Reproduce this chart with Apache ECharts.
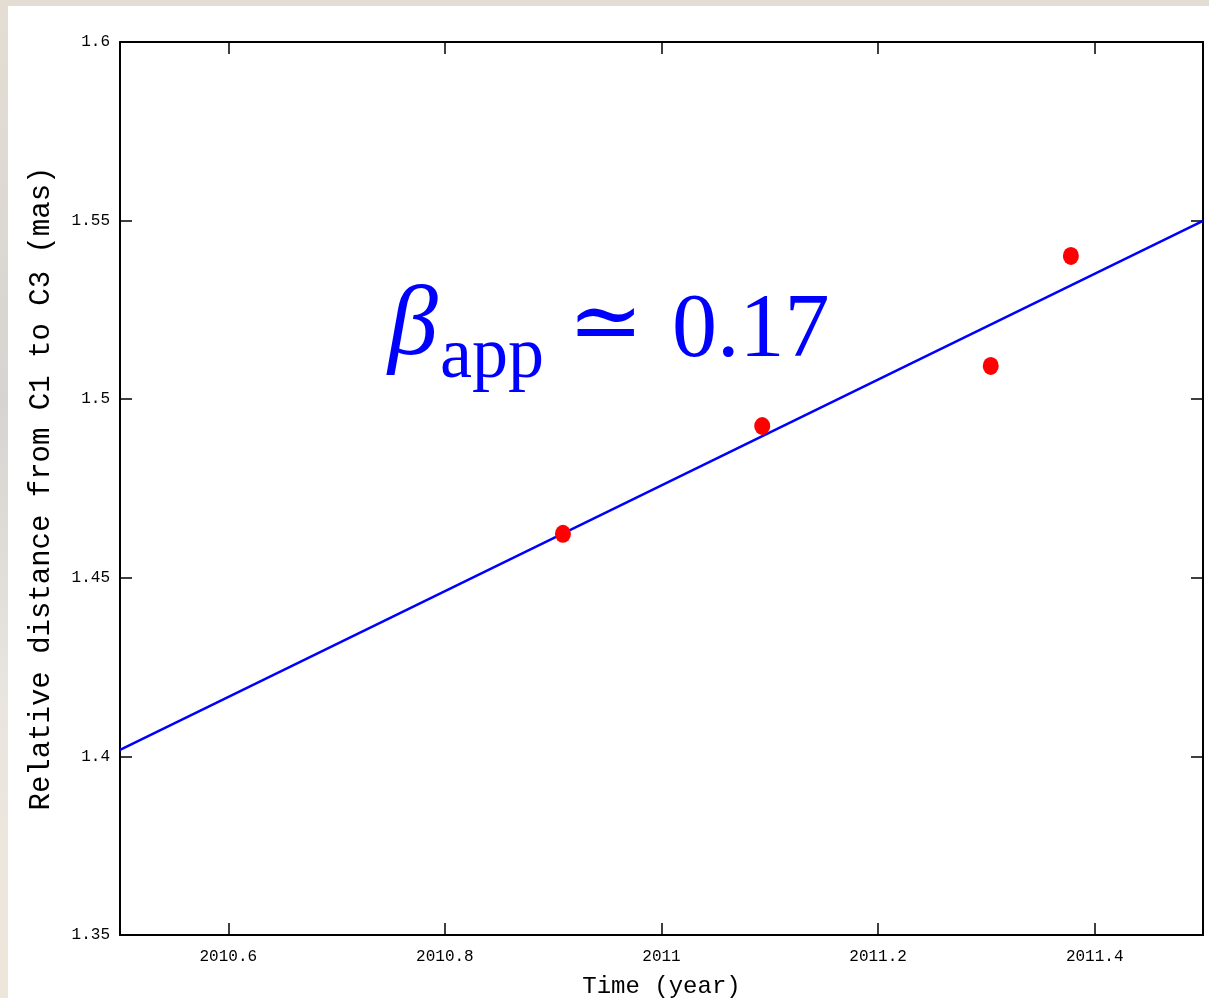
<!DOCTYPE html>
<html>
<head>
<meta charset="utf-8">
<script src="https://cdn.jsdelivr.net/npm/echarts@6/dist/echarts.min.js"></script>
<style>
  html, body { margin: 0; padding: 0; }
  body {
    width: 1209px; height: 998px; overflow: hidden;
    background: linear-gradient(180deg, #e4ddd3 0%, #d6d4d1 40%, #e9e5df 70%, #efe6da 100%);
  }
  #chart {
    position: absolute; left: 8px; top: 6px;
    width: 1201px; height: 992px; background: #fff;
  }
</style>
</head>
<body>
<div id="chart"></div>
<script>
// observed epochs (year) and separation C1-C3 (mas)
const obsYear = [2010.909, 2011.093, 2011.304, 2011.378];
const obsDist = [1.4623, 1.4925, 1.5093, 1.5401];

// linear fit, evaluated at the axis ends
const fitYear = [2010.5, 2011.5];
const fitDist = [1.4018, 1.5499];

const xTicks = [2010.6, 2010.8, 2011, 2011.2, 2011.4];
const yTicks = [1.35, 1.4, 1.45, 1.5, 1.55, 1.6];

const chart = echarts.init(document.getElementById('chart'));

const tickFont = { fontFamily: 'Liberation Mono', fontSize: 16, color: '#000' };
const fmt = (v) => String(+(+v).toFixed(2));

const baseX = {
  type: 'value',
  min: 2010.5,
  max: 2011.5,
  axisLine: { show: true, lineStyle: { color: '#000', width: 2 } },
  axisTick: { show: true, inside: true, length: 12, customValues: xTicks, lineStyle: { color: '#000', width: 1.5 } },
  splitLine: { show: false },
};
const baseY = {
  type: 'value',
  min: 1.35,
  max: 1.6,
  axisLine: { show: true, lineStyle: { color: '#000', width: 2 } },
  axisTick: { show: true, inside: true, length: 12, customValues: yTicks, lineStyle: { color: '#000', width: 1.5 } },
  splitLine: { show: false },
};

chart.setOption({
  animation: false,
  grid: { left: 112, right: 6, top: 36, bottom: 63, containLabel: false, outerBoundsMode: 'none' },
  xAxis: [
    Object.assign({}, baseX, {
      position: 'bottom',
      name: 'Time (year)',
      nameLocation: 'middle',
      nameGap: 40,
      nameTextStyle: { fontFamily: 'Liberation Mono', fontSize: 24, color: '#000' },
      axisLabel: Object.assign({ customValues: xTicks, margin: 14, formatter: fmt }, tickFont),
    }),
    Object.assign({}, baseX, { position: 'top', axisLabel: { show: false } }),
  ],
  yAxis: [
    Object.assign({}, baseY, {
      position: 'left',
      name: 'Relative distance from C1 to C3 (mas)',
      nameLocation: 'middle',
      nameGap: 64,
      nameTextStyle: { fontFamily: 'Liberation Mono', fontSize: 29, color: '#000' },
      axisLabel: Object.assign({ customValues: yTicks, margin: 10, formatter: fmt }, tickFont),
    }),
    Object.assign({}, baseY, { position: 'right', axisLabel: { show: false } }),
  ],
  series: [
    {
      type: 'line',
      data: fitYear.map((x, i) => [x, fitDist[i]]),
      showSymbol: false,
      lineStyle: { color: '#0000ff', width: 2.5 },
      z: 2,
    },
    {
      type: 'scatter',
      data: obsYear.map((x, i) => [x, obsDist[i]]),
      symbol: 'circle',
      symbolSize: [16, 18],
      itemStyle: { color: '#ff0000', opacity: 1 },
      z: 3,
    },
  ],
  graphic: [
    {
      type: 'text', left: 380, top: 272,
      style: { text: 'β', font: 'italic 100px "Liberation Serif"', fill: '#0000ff' },
    },
    {
      type: 'text', left: 432, top: 316,
      style: { text: 'app', font: '72px "Liberation Serif"', fill: '#0000ff' },
    },
    {
      type: 'text', left: 560, top: 278,
      style: { text: '≃', font: '90px "DejaVu Serif"', fill: '#0000ff' },
    },
    {
      type: 'text', left: 664, top: 281,
      style: { text: '0.17', font: '90px "Liberation Serif"', fill: '#0000ff' },
    },
  ],
});
</script>
</body>
</html>
